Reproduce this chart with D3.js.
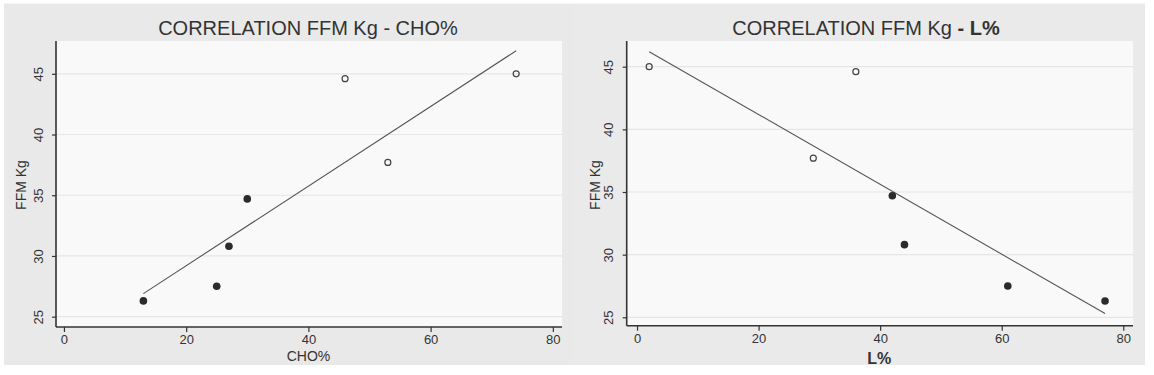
<!DOCTYPE html>
<html>
<head>
<meta charset="utf-8">
<script src="https://cdn.jsdelivr.net/npm/d3@7"></script>
<style>
  html, body { margin: 0; padding: 0; background: #ffffff; }
  svg { display: block; font-family: "Liberation Sans", Arial, sans-serif; }
</style>
</head>
<body>
<svg id="chart" width="1154" height="375"></svg>
<script>
// ---- data ----
const ffmKg  = [26.3, 27.5, 30.8, 34.7, 44.6, 37.7, 45.0];
const choPct = [13, 25, 27, 30, 46, 53, 74];
const lPct   = [77, 61, 44, 42, 36, 29, 2];
const filledMarker = [true, true, true, true, false, false, false];
const xTicks = [0, 20, 40, 60, 80];
const yTicks = [25, 30, 35, 40, 45];
const fitCHO = [[13, 26.9], [74, 46.9]];
const fitL   = [[2, 46.2], [77, 25.3]];

const panels = [
  { x: choPct, fit: fitCHO, title: ["CORRELATION FFM Kg - CHO%", ""], xlabel: "CHO%", xlabelBold: false,
    bg: [4, 573], plot: [56, 562, 41, 327], xdom: [-1.3, 81.5], ydom: [24.15, 47.7],
    titleX: 308, yLabelX: 26, xLabelY: 360.5, xLabelSize: 14 },
  { x: lPct, fit: fitL, title: ["CORRELATION FFM Kg ", "- L%"], xlabel: "L%", xlabelBold: true,
    bg: [573, 1145], plot: [626.7, 1133, 41, 325.7], xdom: [-1.7, 81.6], ydom: [24.33, 47.05],
    titleX: 866, yLabelX: 600, xLabelY: 364, xLabelSize: 16 }
];

const svg = d3.select("#chart");

panels.forEach((p, pi) => {
  const g = svg.append("g");
  // outer gray background
  g.append("rect")
    .attr("x", p.bg[0]).attr("y", 3.5)
    .attr("width", p.bg[1] - p.bg[0]).attr("height", 361.5)
    .attr("fill", pi === 0 ? "#e9e9e9" : "#eaeaea");

  const [x0, x1, y0, y1] = p.plot;
  // plot region
  g.append("rect")
    .attr("x", x0).attr("y", y0)
    .attr("width", x1 - x0).attr("height", y1 - y0)
    .attr("fill", "#f9f9f9");

  const xs = d3.scaleLinear().domain(p.xdom).range([x0, x1]);
  const ys = d3.scaleLinear().domain(p.ydom).range([y1, y0]);

  // gridlines
  g.append("g").selectAll("line").data(yTicks).join("line")
    .attr("x1", x0).attr("x2", x1)
    .attr("y1", d => ys(d)).attr("y2", d => ys(d))
    .attr("stroke", "#e6e6e6").attr("stroke-width", 1.2);

  // title
  const t = g.append("text")
    .attr("x", p.titleX).attr("y", 35)
    .attr("text-anchor", "middle")
    .attr("font-size", 20)
    .attr("fill", "#333");
  t.append("tspan").text(p.title[0]);
  if (p.title[1]) t.append("tspan").attr("font-weight", "bold").text(p.title[1]);

  // x axis
  const xa = g.append("g")
    .attr("transform", `translate(0,${y1})`)
    .call(d3.axisBottom(xs).tickValues(xTicks).tickSize(5).tickPadding(3).tickSizeOuter(0));
  xa.select(".domain").attr("stroke", "#333").attr("stroke-width", 1.6)
    .attr("d", `M${x0},0H${x1}`);
  xa.selectAll(".tick line").attr("stroke", "#333").attr("stroke-width", 1.2);
  xa.selectAll(".tick text").attr("font-size", 13).attr("fill", "#333")
    .attr("font-family", "Liberation Sans, Arial, sans-serif");

  // y axis
  const ya = g.append("g")
    .attr("transform", `translate(${x0},0)`)
    .call(d3.axisLeft(ys).tickValues(yTicks).tickSize(4).tickSizeOuter(0));
  ya.select(".domain").attr("stroke", "#333").attr("stroke-width", 1.6)
    .attr("d", `M0,${y0}V${y1}`);
  ya.selectAll(".tick line").attr("stroke", "#333").attr("stroke-width", 1.2);
  ya.selectAll(".tick text")
    .attr("font-size", 13).attr("fill", "#333")
    .attr("font-family", "Liberation Sans, Arial, sans-serif")
    .attr("x", null).attr("dy", null)
    .attr("text-anchor", "middle")
    .attr("transform", "translate(-13.5,0) rotate(-90)");

  // axis titles
  g.append("text")
    .attr("transform", `translate(${p.yLabelX},185) rotate(-90)`)
    .attr("text-anchor", "middle")
    .attr("font-size", 14).attr("fill", "#333")
    .text("FFM Kg");
  g.append("text")
    .attr("x", (x0 + x1) / 2 - 0.5).attr("y", p.xLabelY)
    .attr("text-anchor", "middle")
    .attr("font-size", p.xLabelSize)
    .attr("font-weight", p.xlabelBold ? "bold" : "normal")
    .attr("fill", "#333")
    .text(p.xlabel);

  // fitted line
  g.append("path")
    .datum(p.fit)
    .attr("d", d3.line().x(d => xs(d[0])).y(d => ys(d[1])))
    .attr("fill", "none").attr("stroke", "#555").attr("stroke-width", 1.1);

  // points
  const pts = p.x.map((v, i) => ({ x: v, y: ffmKg[i], f: filledMarker[i] }));
  g.append("g").selectAll("circle").data(pts).join("circle")
    .attr("cx", d => xs(d.x)).attr("cy", d => ys(d.y))
    .attr("r", d => d.f ? 3.8 : 3)
    .attr("fill", d => d.f ? "#2b2b2b" : "none")
    .attr("stroke", d => d.f ? "none" : "#444")
    .attr("stroke-width", 1.2);
});
</script>
</body>
</html>
